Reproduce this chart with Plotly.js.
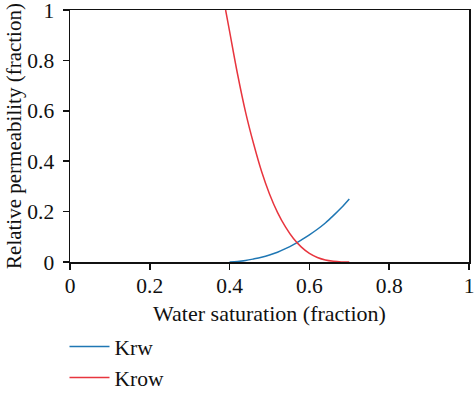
<!DOCTYPE html>
<html>
<head>
<meta charset="utf-8">
<script src="https://cdn.plot.ly/plotly-3.0.1.min.js"></script>
<style>html,body{margin:0;padding:0;background:#fff;}#chart{width:474px;height:398px;}</style>
</head>
<body>
<div id="chart"></div>
<script>
// Water saturation values (fraction)
const krwSw = [0.40, 0.42, 0.44, 0.46, 0.48, 0.50, 0.52, 0.54, 0.56, 0.58, 0.60, 0.62, 0.64, 0.66, 0.68, 0.70];
const krwVal = [0.000, 0.002, 0.006, 0.012, 0.019, 0.028, 0.039, 0.053, 0.069, 0.088, 0.108, 0.130, 0.155, 0.184, 0.215, 0.250];

const krowSw = [0.39, 0.40, 0.42, 0.44, 0.46, 0.48, 0.50, 0.52, 0.54, 0.56, 0.58, 0.60, 0.62, 0.64, 0.66, 0.68, 0.70];
const krowVal = [1.000, 0.915, 0.745, 0.595, 0.470, 0.360, 0.270, 0.197, 0.139, 0.093, 0.059, 0.034, 0.018, 0.008, 0.003, 0.0005, 0.000];

const tickVals = [0, 0.2, 0.4, 0.6, 0.8, 1];
const tickText = ["0", "0.2", "0.4", "0.6", "0.8", "1"];

const FONT = "Liberation Serif, Times New Roman, serif";
const FS = 21.5;

const traces = [
  {x: krwSw, y: krwVal, name: "Krw", mode: "lines", legendgroup: "a",
   line: {color: "#1f77b4", width: 1.5, shape: "spline"}},
  {x: krowSw, y: krowVal, name: "Krow", mode: "lines", legendgroup: "b",
   line: {color: "#e8353e", width: 1.5, shape: "spline"}}
];

const axisCommon = {
  range: [0, 1], tickvals: tickVals, ticktext: tickText,
  showgrid: false, zeroline: false, showline: true, linecolor: "#111", linewidth: 1.5,
  mirror: true, ticks: "outside", ticklen: 6, tickwidth: 1.5, tickcolor: "#111",
  ticklabeloverflow: "allow", automargin: false,
  tickfont: {family: FONT, size: FS, color: "#111"}
};

const layout = {
  width: 474, height: 398,
  margin: {l: 70, r: 5, t: 10, b: 0},
  paper_bgcolor: "#fff", plot_bgcolor: "#fff",
  font: {family: FONT, color: "#111"},
  xaxis: Object.assign({}, axisCommon, {
    anchor: "y",
    ticklabelstandoff: -2,
    title: {text: "Water saturation (fraction)", font: {family: FONT, size: 22, color: "#111"}, standoff: 8}
  }),
  yaxis: Object.assign({}, axisCommon, {
    domain: [0.3505, 1],
    ticklabelstandoff: 4,
    title: {text: "Relative permeability (fraction)", font: {family: FONT, size: 21, color: "#111"}, standoff: 0}
  }),
  showlegend: true,
  legend: {
    orientation: "v",
    x: -0.0138, xanchor: "left", y: 0, yanchor: "bottom",
    font: {family: FONT, size: FS, color: "#111"},
    tracegroupgap: 0, bgcolor: "rgba(0,0,0,0)", itemwidth: 40
  }
};

Plotly.newPlot("chart", traces, layout, {displayModeBar: false, staticPlot: true});
</script>
</body>
</html>
